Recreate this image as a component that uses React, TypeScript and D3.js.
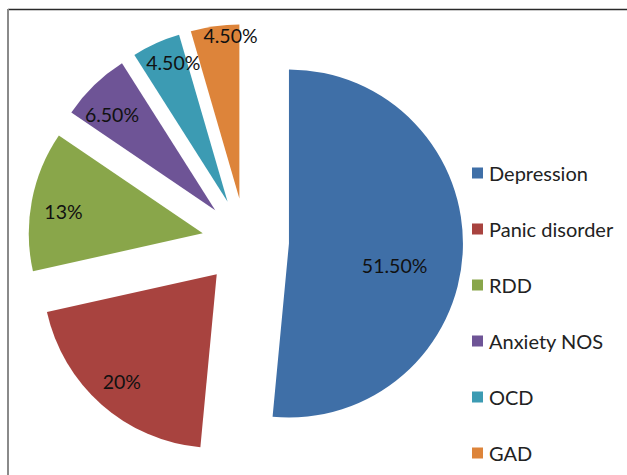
import React from "react";
import * as d3 from "d3";

const categories = ["Depression", "Panic disorder", "RDD", "Anxiety NOS", "OCD", "GAD"];
const values = [51.5, 20, 13, 6.5, 4.5, 4.5];
const labels = ["51.50%", "20%", "13%", "6.50%", "4.50%", "4.50%"];
const colors = ["#3F6FA7", "#A8433F", "#89A64A", "#6E5496", "#3C9BB3", "#DD843A"];

const W = 627;
const H = 475;
const CX = 245.5;
const CY = 241.5;
const R = 174;
const EXPLODE = 43.5;
// best-fit label placement (fraction of radius, angle shift in degrees)
const labelFit = [
  { k: 0.62, da: 9 },
  { k: 0.825, da: 0 },
  { k: 0.81, da: -2 },
  { k: 0.81, da: -3 },
  { k: 0.86, da: 3 },
  { k: 0.94, da: 5 },
];

export default function App() {
  const pie = d3.pie<number>().sort(null).value((d) => d)(values);
  const arc = d3.arc<d3.PieArcDatum<number>>().innerRadius(0).outerRadius(R);

  const legendY = d3.scalePoint<string>().domain(categories).range([173, 453]);

  return (
    <svg
      width={W}
      height={H}
      style={{ position: "absolute", left: 0, top: 0, background: "#fff" }}
      fontFamily="Lato, 'Open Sans', sans-serif"
    >
      <line x1={8} y1={9.5} x2={W} y2={9.5} stroke="#2a2a2a" strokeWidth={1.5} />
      <line x1={8} y1={9} x2={8} y2={H} stroke="#8a8a8a" strokeWidth={2} />
      {pie.map((p, i) => {
        const mid = (p.startAngle + p.endAngle) / 2;
        const ox = CX + EXPLODE * Math.sin(mid);
        const oy = CY - EXPLODE * Math.cos(mid);
        const la = mid + (labelFit[i].da * Math.PI) / 180;
        const lr = labelFit[i].k * R;
        const lx = ox + lr * Math.sin(la);
        const ly = oy - lr * Math.cos(la);
        return (
          <g key={categories[i]}>
            <path d={arc(p) || ""} transform={`translate(${ox},${oy})`} fill={colors[i]} />
            <text
              x={lx}
              y={ly}
              textAnchor="middle"
              dominantBaseline="central"
              fontSize={19.5}
              fill="#111"
            >
              {labels[i]}
            </text>
          </g>
        );
      })}
      {categories.map((c, i) => {
        const y = legendY(c) as number;
        return (
          <g key={"lg" + c}>
            <rect x={472} y={y - 5.5} width={11} height={11} fill={colors[i]} />
            <text x={489} y={y} dominantBaseline="central" fontSize={20} fill="#222">
              {c}
            </text>
          </g>
        );
      })}
    </svg>
  );
}
